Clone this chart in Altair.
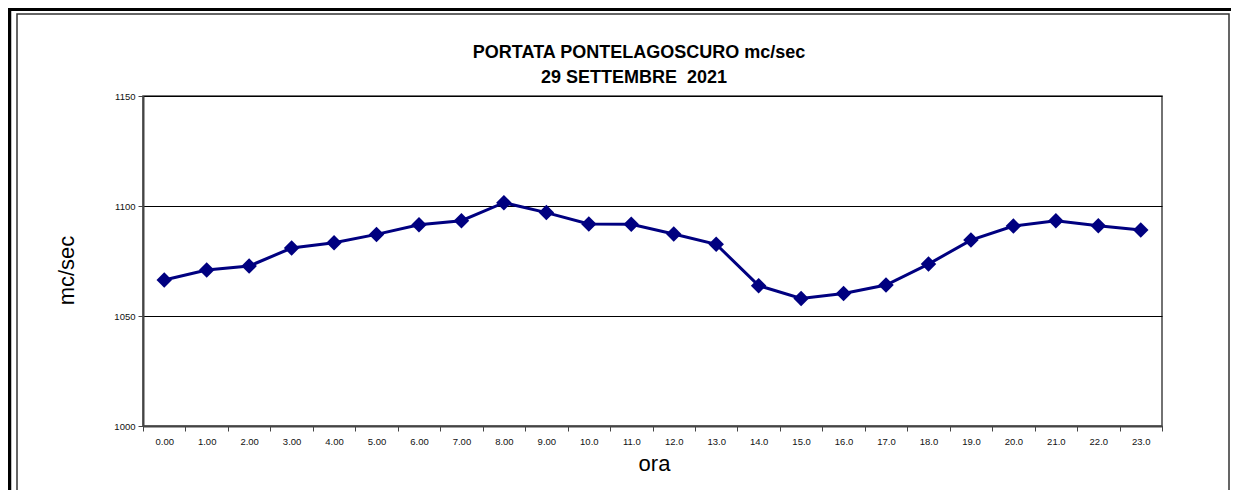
import altair as alt
import pandas as pd

ore = ["0.00", "1.00", "2.00", "3.00", "4.00", "5.00", "6.00", "7.00", "8.00", "9.00",
       "10.0", "11.0", "12.0", "13.0", "14.0", "15.0", "16.0", "17.0", "18.0", "19.0",
       "20.0", "21.0", "22.0", "23.0"]
portata = [1066.4, 1070.9, 1072.7, 1080.9, 1083.3, 1087.1, 1091.5, 1093.3, 1101.5, 1097.0,
           1091.8, 1091.7, 1087.3, 1082.6, 1063.8, 1058.0, 1060.2, 1064.1, 1073.6, 1084.5,
           1090.9, 1093.3, 1091.0, 1089.1]
y_ticks = [1000, 1050, 1100, 1150]
titolo = ["PORTATA PONTELAGOSCURO mc/sec", "29 SETTEMBRE\u00a0 2021"]

df = pd.DataFrame({"ora": ore, "portata": portata})

FONT = "Liberation Sans"
NAVY = "#000080"

x_enc = alt.X("ora:N", sort=ore,
              scale=alt.Scale(paddingInner=0, paddingOuter=0),
              axis=alt.Axis(title="ora", labelAngle=0, tickBand="extent", tickSize=5,
                            labelFontSize=9.5, labelPadding=5, labelColor="#111",
                            domainColor="#444", domainWidth=2, tickColor="#444",
                            titleFontSize=22, titleFontWeight="normal", titleColor="#000",
                            titleX=511, titleY=44, titleBaseline="alphabetic",
                            titleAlign="center", grid=False))
y_enc = alt.Y("portata:Q", scale=alt.Scale(domain=[1000, 1150], nice=False, zero=False),
              axis=alt.Axis(title="mc/sec", values=y_ticks, format="d", tickSize=5,
                            labelFontSize=9.5, labelPadding=3, labelColor="#111",
                            domainColor="#444", domainWidth=2, tickColor="#444", grid=True,
                            gridColor="#000", gridWidth=1, titleFontSize=22,
                            titleFontWeight="normal", titleColor="#000", titleX=-70,
                            titleY=174, titleBaseline="alphabetic", titleAlign="center",
                            titleAngle=-90))

one = alt.Data(values=[{"k": 1}])

outer_top = alt.Chart(one).mark_rule(color="#000", strokeWidth=3).encode(
    x=alt.value(-135), x2=alt.value(1090), y=alt.value(-86.5))
outer_left = alt.Chart(one).mark_rule(color="#000", strokeWidth=3.5).encode(
    x=alt.value(-133.5), y=alt.value(-88), y2=alt.value(400))
inner = alt.Chart(one).mark_rect(fillOpacity=0, stroke="#333", strokeWidth=1.5).encode(
    x=alt.value(-126), x2=alt.value(1086), y=alt.value(-82), y2=alt.value(396))

t1 = alt.Chart(one).mark_text(text=titolo[0], font=FONT, fontSize=18, fontWeight="bold",
                              color="#000", align="center", baseline="alphabetic").encode(
    x=alt.value(496), y=alt.value(-38))
t2 = alt.Chart(one).mark_text(text=titolo[1], font=FONT, fontSize=18, fontWeight="bold",
                              color="#000", align="center", baseline="alphabetic").encode(
    x=alt.value(491), y=alt.value(-13))

line = alt.Chart(df).mark_line(color=NAVY, strokeWidth=3).encode(x=x_enc, y=y_enc)
pts = alt.Chart(df).mark_point(shape="diamond", filled=True, size=240, color=NAVY,
                               opacity=1).encode(x=x_enc, y=y_enc)

chart = alt.layer(outer_top, outer_left, inner, t1, t2, line, pts).properties(
    width=1019, height=330,
    autosize=alt.AutoSizeParams(type="none"),
    padding={"left": 135, "top": 88, "right": 69, "bottom": 64},
).configure(font=FONT).configure_view(stroke="#444", strokeWidth=1.5)

chart.save("out.html", embed_options={"renderer": "svg", "actions": False})
